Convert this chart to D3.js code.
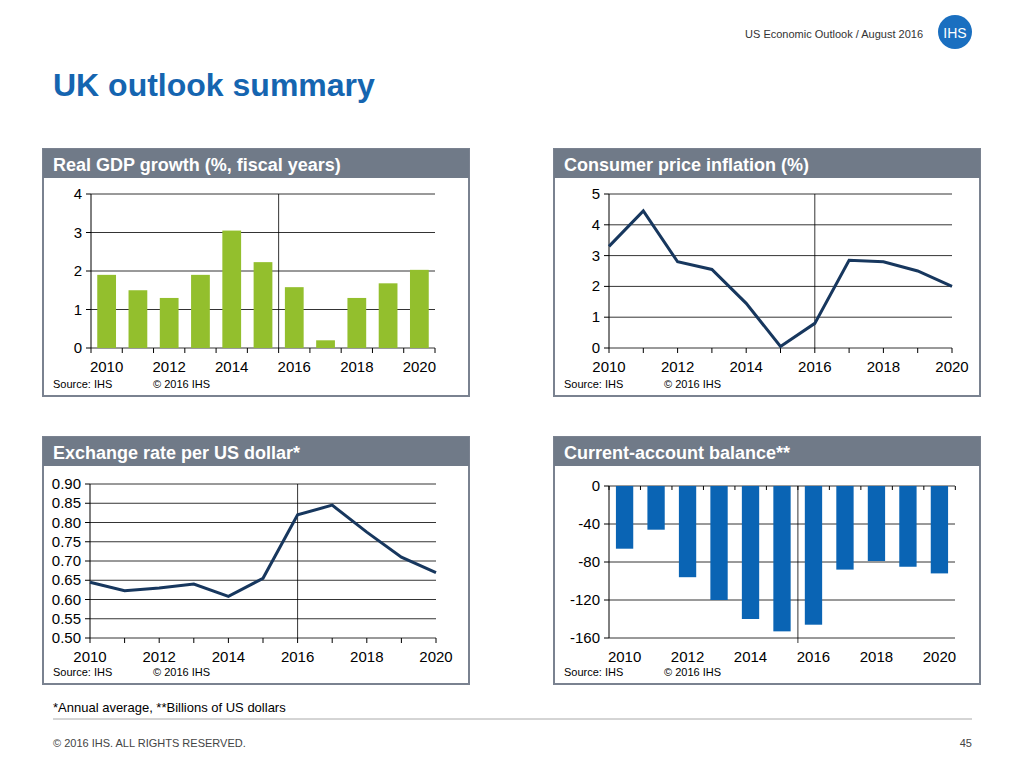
<!DOCTYPE html>
<html><head><meta charset="utf-8">
<script src="https://cdn.jsdelivr.net/npm/d3@7"></script>
<style>body{margin:0;background:#fff}text{font-family:"Liberation Sans",Arial,sans-serif}</style>
</head><body>
<svg id="c" width="1024" height="768"></svg>
<script>
const years = [2010,2011,2012,2013,2014,2015,2016,2017,2018,2019,2020];
const yearLabels = [2010,2012,2014,2016,2018,2020];
const gdpValues = [1.9,1.5,1.3,1.9,3.05,2.23,1.58,0.2,1.3,1.68,2.03];
const cpiValues = [3.3,4.45,2.8,2.55,1.45,0.05,0.8,2.85,2.8,2.5,2.0];
const fxValues = [0.645,0.623,0.63,0.64,0.608,0.655,0.82,0.845,0.775,0.71,0.67];
const caValues = [-66,-46,-96,-120,-140,-153,-146,-88,-79,-85,-92];
const gdpTicks = [0,1,2,3,4];
const cpiTicks = [0,1,2,3,4,5];
const fxTicks = [0.50,0.55,0.60,0.65,0.70,0.75,0.80,0.85,0.90];
const caTicks = [0,-40,-80,-120,-160];

const svg = d3.select("#c");
svg.append("text").attr("x",923).attr("y",38).attr("text-anchor","end").attr("font-size",11).attr("fill","#333").text("US Economic Outlook / August 2016");
svg.append("circle").attr("cx",955).attr("cy",32).attr("r",17).attr("fill","#1a6fc0");
svg.append("text").attr("x",955).attr("y",38).attr("text-anchor","middle").attr("font-size",14).attr("fill","#fff").attr("font-family","Liberation Serif").text("IHS");
svg.append("text").attr("x",53).attr("y",96).attr("font-size",32).attr("font-weight","bold").attr("fill","#1565b0").text("UK outlook summary");
svg.append("text").attr("x",53).attr("y",712).attr("font-size",13).attr("fill","#000").text("*Annual average, **Billions of US dollars");
svg.append("line").attr("x1",53).attr("x2",972).attr("y1",719).attr("y2",719).attr("stroke","#aaa");
svg.append("text").attr("x",53).attr("y",747).attr("font-size",11).attr("fill","#444").text("© 2016 IHS. ALL RIGHTS RESERVED.");
svg.append("text").attr("x",972).attr("y",747).attr("text-anchor","end").attr("font-size",11).attr("fill","#444").text("45");

function panel(px,py,title){
  const g=svg.append("g");
  g.append("rect").attr("x",px).attr("y",py).attr("width",426).attr("height",247).attr("fill","#fff").attr("stroke","#7a8290").attr("stroke-width",2);
  g.append("rect").attr("x",px).attr("y",py).attr("width",426).attr("height",29).attr("fill","#707a88");
  g.append("text").attr("x",px+10).attr("y",py+22).attr("font-size",18).attr("font-weight","bold").attr("fill","#fff").text(title);
  g.append("text").attr("x",px+10).attr("y",py+239).attr("font-size",11).text("Source: IHS");
  g.append("text").attr("x",px+110).attr("y",py+239).attr("font-size",11).text("© 2016 IHS");
  return g;
}
function grid(g,y,ticks,x0,x1,fmt){
  ticks.forEach(t=>{
    g.append("line").attr("x1",x0).attr("x2",x1).attr("y1",y(t)).attr("y2",y(t)).attr("stroke","#000").attr("stroke-width",0.8);
    g.append("line").attr("x1",x0-5).attr("x2",x0).attr("y1",y(t)).attr("y2",y(t)).attr("stroke","#000");
    g.append("text").attr("x",x0-9).attr("y",y(t)+5).attr("text-anchor","end").attr("font-size",15).text(fmt(t));
  });
  g.append("line").attr("x1",x0).attr("x2",x0).attr("y1",y(ticks[ticks.length-1]>ticks[0]?ticks[ticks.length-1]:ticks[0])).attr("y2",y.range()[0]).attr("stroke","#000");
}

// GDP bars
{
  const g=panel(43,149,"Real GDP growth (%, fiscal years)");
  const x=d3.scaleBand().domain(years).range([91,435]).paddingInner(0.4).paddingOuter(0.2);
  const y=d3.scaleLinear().domain([0,4]).range([348,194]);
  grid(g,y,gdpTicks,91,435,d=>d);
  g.selectAll(".b").data(gdpValues).join("rect").attr("x",(d,i)=>x(years[i])).attr("width",x.bandwidth()).attr("y",d=>y(d)).attr("height",d=>y(0)-y(d)).attr("fill","#93bf2d");
  const step=x.step();
  years.concat([2021]).forEach((yr,i)=>g.append("line").attr("x1",91+i*step).attr("x2",91+i*step).attr("y1",348).attr("y2",353).attr("stroke","#000"));
  g.append("line").attr("x1",91+6*step).attr("x2",91+6*step).attr("y1",194).attr("y2",348).attr("stroke","#000").attr("stroke-width",0.8);
  yearLabels.forEach(yr=>g.append("text").attr("x",x(yr)+x.bandwidth()/2).attr("y",372).attr("text-anchor","middle").attr("font-size",15).text(yr));
}
// CPI line
{
  const g=panel(554,149,"Consumer price inflation (%)");
  const x=d3.scalePoint().domain(years).range([609,952]);
  const y=d3.scaleLinear().domain([0,5]).range([348,194]);
  grid(g,y,cpiTicks,609,952,d=>d);
  years.forEach(yr=>g.append("line").attr("x1",x(yr)).attr("x2",x(yr)).attr("y1",348).attr("y2",353).attr("stroke","#000"));
  g.append("line").attr("x1",x(2016)).attr("x2",x(2016)).attr("y1",194).attr("y2",348).attr("stroke","#000").attr("stroke-width",0.8);
  g.append("path").datum(cpiValues).attr("d",d3.line().x((d,i)=>x(years[i])).y(d=>y(d))).attr("fill","none").attr("stroke","#17375e").attr("stroke-width",3);
  yearLabels.forEach(yr=>g.append("text").attr("x",x(yr)).attr("y",372).attr("text-anchor","middle").attr("font-size",15).text(yr));
}
// FX line
{
  const g=panel(43,437,"Exchange rate per US dollar*");
  const x=d3.scalePoint().domain(years).range([90,436]);
  const y=d3.scaleLinear().domain([0.5,0.9]).range([638,484]);
  grid(g,y,fxTicks,90,436,d=>d.toFixed(2));
  years.forEach(yr=>g.append("line").attr("x1",x(yr)).attr("x2",x(yr)).attr("y1",638).attr("y2",643).attr("stroke","#000"));
  g.append("line").attr("x1",x(2016)).attr("x2",x(2016)).attr("y1",484).attr("y2",638).attr("stroke","#000").attr("stroke-width",0.8);
  g.append("path").datum(fxValues).attr("d",d3.line().x((d,i)=>x(years[i])).y(d=>y(d))).attr("fill","none").attr("stroke","#17375e").attr("stroke-width",3);
  yearLabels.forEach(yr=>g.append("text").attr("x",x(yr)).attr("y",662).attr("text-anchor","middle").attr("font-size",15).text(yr));
}
// CA bars
{
  const g=panel(554,437,"Current-account balance**");
  const x=d3.scaleBand().domain(years).range([609,955]).paddingInner(0.45).paddingOuter(0.22);
  const y=d3.scaleLinear().domain([-160,0]).range([638,486]);
  caTicks.forEach(t=>{
    g.append("line").attr("x1",609).attr("x2",955).attr("y1",y(t)).attr("y2",y(t)).attr("stroke","#000").attr("stroke-width",0.8);
    g.append("line").attr("x1",604).attr("x2",609).attr("y1",y(t)).attr("y2",y(t)).attr("stroke","#000");
    g.append("text").attr("x",600).attr("y",y(t)+5).attr("text-anchor","end").attr("font-size",15).text(t);
  });
  g.append("line").attr("x1",609).attr("x2",609).attr("y1",486).attr("y2",638).attr("stroke","#000");
  const step=x.step();
  years.concat([2021]).forEach((yr,i)=>g.append("line").attr("x1",609+i*step).attr("x2",609+i*step).attr("y1",486).attr("y2",490).attr("stroke","#000"));
  g.selectAll(".b").data(caValues).join("rect").attr("x",(d,i)=>x(years[i])).attr("width",x.bandwidth()).attr("y",y(0)).attr("height",d=>y(d)-y(0)).attr("fill","#0a64b4");
  g.append("line").attr("x1",609+6*step).attr("x2",609+6*step).attr("y1",486).attr("y2",643).attr("stroke","#000").attr("stroke-width",0.8);
  yearLabels.forEach(yr=>g.append("text").attr("x",x(yr)+x.bandwidth()/2).attr("y",662).attr("text-anchor","middle").attr("font-size",15).text(yr));
}
</script>
</body></html>
